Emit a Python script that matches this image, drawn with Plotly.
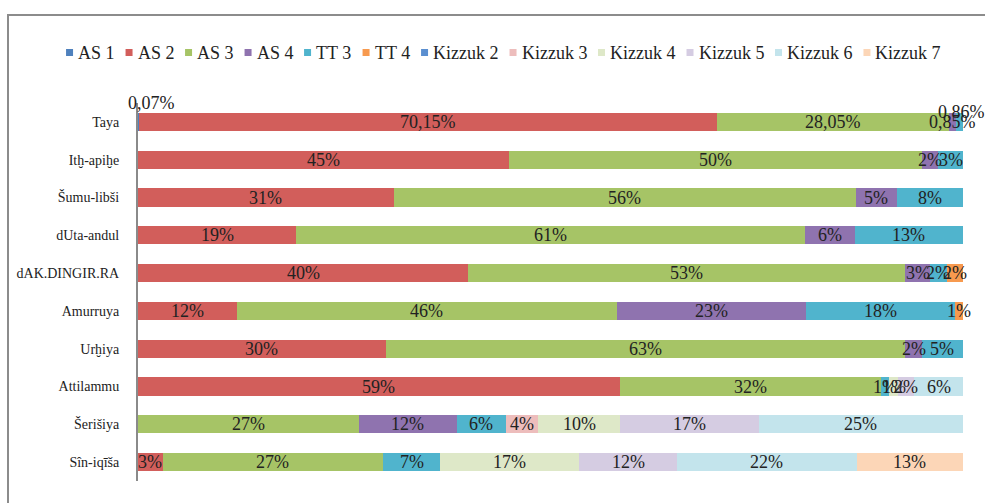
import plotly.graph_objects as go

# Rows, top to bottom
categories = ["Taya", "Itḫ-apiḫe", "Šumu-libši", "dUta-andul", "dAK.DINGIR.RA",
              "Amurruya", "Urḫiya", "Attilammu", "Šerišiya", "Sîn-iqīša"]

# Share of each group per row (None = not present)
as1 = [0.07, None, None, None, None, None, None, None, None, None]
as2 = [70.15, 45, 31, 19, 40, 12, 30, 59, None, 3]
as3 = [28.05, 50, 56, 61, 53, 46, 63, 32, 27, 27]
as4 = [0.85, 2, 5, 6, 3, 23, 2, None, 12, None]
tt3 = [0.86, 3, 8, 13, 2, 18, 5, 1, 6, 7]
tt4 = [None, None, None, None, 2, 1, None, None, None, None]
kizzuk2 = [None] * 10
kizzuk3 = [None, None, None, None, None, None, None, None, 4, None]
kizzuk4 = [None, None, None, None, None, None, None, 1, 10, 17]
kizzuk5 = [None, None, None, None, None, None, None, 2, 17, 12]
kizzuk6 = [None, None, None, None, None, None, None, 6, 25, 22]
kizzuk7 = [None, None, None, None, None, None, None, None, None, 13]

series_names = ["AS 1", "AS 2", "AS 3", "AS 4", "TT 3", "TT 4", "Kizzuk 2",
                "Kizzuk 3", "Kizzuk 4", "Kizzuk 5", "Kizzuk 6", "Kizzuk 7"]
series_values = [as1, as2, as3, as4, tt3, tt4, kizzuk2,
                 kizzuk3, kizzuk4, kizzuk5, kizzuk6, kizzuk7]
colors = ["#4F81BD", "#D25E5B", "#A6C466", "#8F73AF", "#50B4CD", "#F79A4F",
          "#5B8FD0", "#EDBDBC", "#DEE8C8", "#D5CCE2", "#C3E4EC", "#FCD6B7"]

FONT = "Liberation Serif"
TEXT = "#222222"
W, H = 985, 503
ML, MR, MT, MB = 138, 22, 103, 22
PW, PH = W - ML - MR, H - MT - MB


def fmt(v):
    if abs(v - round(v)) < 1e-9:
        return f"{int(round(v))}%"
    return f"{v:.2f}".replace(".", ",") + "%"


def px_to_paper_x(px):
    return (px - ML) / PW


def px_to_paper_y(py):
    return (H - MB - py) / PH


fig = go.Figure()
for name, vals, col in zip(series_names, series_values, colors):
    fig.add_trace(go.Bar(
        name=name, y=categories, x=vals, orientation="h",
        marker=dict(color=col, line=dict(width=0)),
        hoverinfo="x+name", showlegend=False,
    ))

# Data labels centred on each normalised segment
annotations = []
for i, cat in enumerate(categories):
    row = [vals[i] for vals in series_values]
    total = sum(v for v in row if v)
    cum = 0.0
    for s, v in enumerate(row):
        if not v:
            continue
        mid = (cum + v / 2) / total * 100
        cum += v
        ann = dict(x=mid, y=cat, xref="x", yref="y", text=fmt(v), showarrow=False,
                   font=dict(family=FONT, size=18, color=TEXT))
        if cat == "Taya" and series_names[s] == "AS 1":
            ann.update(xanchor="left", xshift=-12, yshift=19)
        elif cat == "Taya" and series_names[s] == "TT 3":
            ann.update(yshift=10, xshift=2)
        annotations.append(ann)

# Single-row legend: small square key followed by the series name
CHAR_W = {"A": 722, "S": 556, "T": 611, "K": 722, "i": 278, "z": 444, "u": 500,
          "k": 500, " ": 250}
LEG_SIZE = 18
KEY, KEY_GAP, ITEM_GAP = 7, 4, 12


def text_width(s):
    return sum(CHAR_W.get(c, 500) for c in s) * LEG_SIZE / 1000


widths = [KEY + KEY_GAP + text_width(n) for n in series_names]
total_w = sum(widths) + ITEM_GAP * (len(widths) - 1)
x = 503 - total_w / 2
leg_y = 53
shapes = []
for name, col, w in zip(series_names, colors, widths):
    shapes.append(dict(type="rect", xref="paper", yref="paper",
                       x0=px_to_paper_x(x), x1=px_to_paper_x(x + KEY),
                       y0=px_to_paper_y(leg_y + 3), y1=px_to_paper_y(leg_y - 4),
                       fillcolor=col, line=dict(width=0)))
    annotations.append(dict(x=px_to_paper_x(x + KEY + KEY_GAP - 1), y=px_to_paper_y(leg_y),
                            xref="paper", yref="paper", xanchor="left", yanchor="middle",
                            text=name, showarrow=False,
                            font=dict(family=FONT, size=LEG_SIZE, color=TEXT)))
    x += w + ITEM_GAP

# Outer frame of the chart area
shapes.append(dict(type="rect", xref="paper", yref="paper",
                   x0=px_to_paper_x(8), x1=px_to_paper_x(W + 20),
                   y0=px_to_paper_y(H + 20), y1=px_to_paper_y(15),
                   line=dict(color="#8c8c8c", width=2), fillcolor="rgba(0,0,0,0)",
                   layer="below"))

fig.update_layout(
    width=W, height=H,
    margin=dict(l=ML, r=MR, t=MT, b=MB),
    barmode="stack", barnorm="percent", bargap=0.52,
    plot_bgcolor="white", paper_bgcolor="white",
    font=dict(family=FONT, color=TEXT),
    showlegend=False,
    xaxis=dict(range=[0, 100], showgrid=False, zeroline=False, showticklabels=False,
               showline=False, fixedrange=True),
    yaxis=dict(categoryorder="array", categoryarray=categories, autorange="reversed",
               showgrid=False, zeroline=False, showline=True, linecolor="#8a8a8a",
               linewidth=2, ticks="", ticklabelstandoff=14,
               tickfont=dict(family=FONT, size=14, color=TEXT)),
    annotations=annotations,
    shapes=shapes,
)

fig.write_html("out.html")
